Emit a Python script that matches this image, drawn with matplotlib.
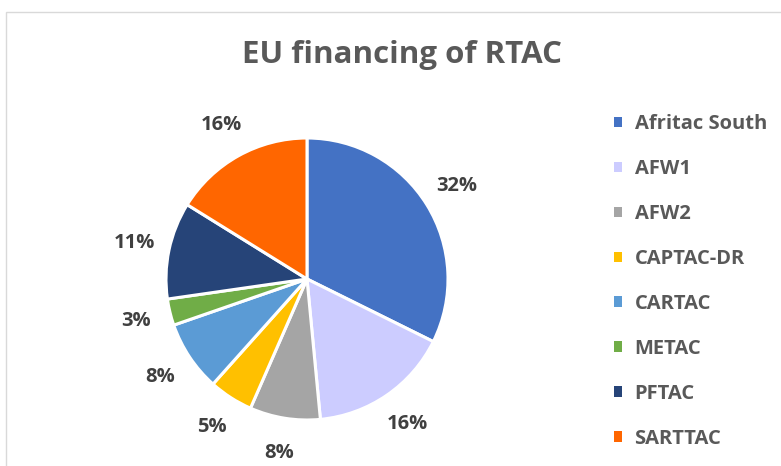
import numpy as np
import matplotlib
matplotlib.use("Agg")
import matplotlib.pyplot as plt
from matplotlib.patches import Patch, Rectangle

plt.rcParams['font.family'] = ['Open Sans', 'DejaVu Sans']

# Share of EU financing by regional technical assistance centre (%)
centres = ["Afritac South", "AFW1", "AFW2", "CAPTAC-DR", "CARTAC", "METAC", "PFTAC", "SARTTAC"]
shares = [32, 16, 8, 5, 8, 3, 11, 16]
colors = ["#4472C4", "#CCCCFF", "#A5A5A5", "#FFC000", "#5B9BD5", "#70AD47", "#264478", "#FF6600"]
title = "EU financing of RTAC"

W, H = 781, 466
fig = plt.figure(figsize=(W / 100, H / 100), dpi=100)
fig.patch.set_facecolor("white")

# chart-area border
fig.patches.append(Rectangle((6 / W, -0.1), 1.2, (H - 12) / H + 0.1,
                             transform=fig.transFigure, fill=False,
                             edgecolor="#D9D9D9", linewidth=1.0))

# pie axes: centre (307, 279) px, radius 141 px
lim = 1.3
r_px = 141
size = 2 * lim * r_px
cx, cy = 307, H - 279
ax = fig.add_axes([(cx - size / 2) / W, (cy - size / 2) / H, size / W, size / H])

wedges, _ = ax.pie(shares, colors=colors, startangle=90, counterclock=False,
                   wedgeprops=dict(edgecolor="white", linewidth=2.2))
ax.set_xlim(-lim, lim)
ax.set_ylim(-lim, lim)
ax.set_aspect("equal")

# percentage labels outside each slice
for w, v in zip(wedges, shares):
    mid = np.deg2rad((w.theta1 + w.theta2) / 2)
    ax.text(1.25 * np.cos(mid), 1.25 * np.sin(mid), f"{v}%",
            ha="center", va="center", fontsize=14.5, fontweight="bold", color="#404040")

fig.text(402 / W, 1 - 55 / H, title, ha="center", va="center",
         fontsize=22.5, fontweight="bold", color="#595959")

handles = [Patch(facecolor=c, edgecolor="none") for c in colors]
leg = fig.legend(handles, centres, loc="upper left", bbox_to_anchor=(614 / W, 1 - 114 / H),
                 frameon=False, prop=dict(size=14.5, weight="bold"),
                 handlelength=0.42, handleheight=0.42, handletextpad=0.6,
                 labelspacing=1.24, borderaxespad=0, borderpad=0)
for t in leg.get_texts():
    t.set_color("#595959")

fig.savefig("out.png", dpi=100, facecolor="white")
